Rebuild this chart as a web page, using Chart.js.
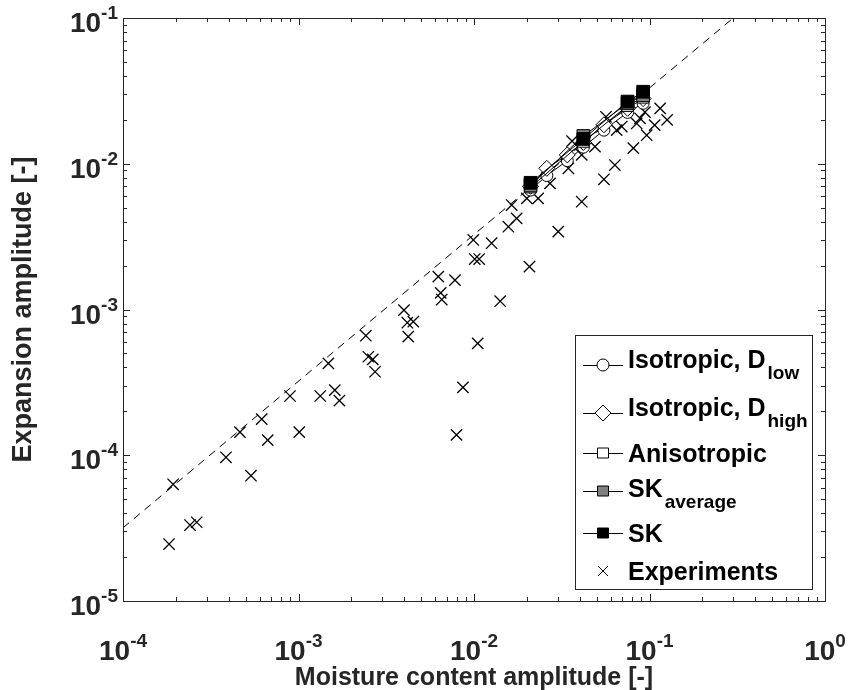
<!DOCTYPE html>
<html>
<head>
<script src="https://cdn.jsdelivr.net/npm/chart.js"></script>
<title>Expansion amplitude vs moisture content amplitude</title>
<style>
  body { margin: 0; background: #fff; }
  canvas { display: block; }
</style>
</head>
<body>
<canvas id="chart" width="850" height="690"></canvas>
<script>
// tick decades (powers of ten)
const xPowers = [-4, -3, -2, -1, 0];
const yPowers = [-5, -4, -3, -2, -1];

// experiments
const expX = [1.83e-4, 1.93e-4, 2.41e-4, 2.63e-4, 3.86e-4, 4.64e-4, 5.36e-4, 6.17e-4, 6.68e-4, 1.01e-3,
  8.95e-4, 1.33e-3, 1.61e-3, 1.71e-3, 1.48e-3, 2.42e-3, 2.50e-3, 2.65e-3, 2.73e-3, 3.99e-3,
  4.17e-3, 4.51e-3, 4.22e-3, 6.26e-3, 7.79e-3, 6.46e-3, 6.55e-3, 9.91e-3, 1.26e-2, 1.01e-2,
  1.07e-2, 1.05e-2, 8.65e-3, 7.95e-3, 1.41e-2, 2.07e-2, 1.57e-2, 1.75e-2, 1.64e-2, 3.02e-2,
  2.0e-2, 2.32e-2, 4.11e-2, 2.71e-2, 3.45e-2, 4.11e-2, 4.89e-2, 5.5e-2, 6.35e-2, 3.62e-2,
  5.65e-2, 6.5e-2, 8.09e-2, 9.64e-2, 0.107, 0.126, 0.115, 6.95e-2, 8.83e-2, 8.45e-2, 9.42e-2];
const expY = [2.46e-5, 6.32e-5, 3.32e-5, 3.47e-5, 9.68e-5, 1.44e-4, 7.24e-5, 1.77e-4, 1.27e-4, 1.44e-4,
  2.55e-4, 2.55e-4, 2.80e-4, 2.37e-4, 4.27e-4, 6.61e-4, 4.74e-4, 4.55e-4, 3.74e-4, 9.9e-4,
  8.12e-4, 8.25e-4, 6.51e-4, 1.68e-3, 1.59e-3, 1.30e-3, 1.17e-3, 3.0e-3, 2.85e-3, 2.22e-3,
  2.22e-3, 5.86e-4, 2.92e-4, 1.38e-4, 1.14e-3, 1.97e-3, 3.70e-3, 4.22e-3, 5.21e-3, 3.42e-3,
  5.79e-3, 5.79e-3, 5.49e-3, 7.34e-3, 9.31e-3, 1.15e-2, 1.31e-2, 7.82e-3, 9.8e-3, 1.43e-2,
  2.1e-2, 1.70e-2, 1.28e-2, 1.57e-2, 1.84e-2, 2.0e-2, 2.40e-2, 1.80e-2, 2.05e-2, 1.89e-2, 2.26e-2];

// dashed reference line
const fitX = [1e-4, 0.3];
const fitY = [3.18e-5, 0.1];

// model results
const isoX = [0.021, 0.026, 0.034, 0.042, 0.055, 0.075, 0.092];
const isoLowY = [6.6e-3, 8.3e-3, 1.05e-2, 1.3e-2, 1.7e-2, 2.25e-2, 2.6e-2];
const isoHighY = [7.0e-3, 9.3e-3, 1.15e-2, 1.4e-2, 1.85e-2, 2.4e-2, 2.8e-2];
const modelX = [0.021, 0.042, 0.075, 0.092];
const anisoY = [6.9e-3, 1.42e-2, 2.5e-2, 2.85e-2];
const skAvgY = [7.1e-3, 1.55e-2, 2.6e-2, 2.95e-2];
const skY = [7.4e-3, 1.48e-2, 2.67e-2, 3.12e-2];

const INK = '#262626';
const FONT = '"Liberation Sans", Arial, sans-serif';

function pts(xs, ys) {
  return xs.map((x, i) => ({ x: x, y: ys[i] }));
}

function modelSet(label, xs, ys, style, radius, fill, order) {
  return {
    label: label,
    data: pts(xs, ys),
    showLine: true,
    borderColor: '#000',
    borderWidth: 1,
    pointStyle: style,
    pointRadius: radius,
    pointBackgroundColor: fill,
    pointBorderColor: '#000',
    pointBorderWidth: 1,
    order: order
  };
}

// legend entries
const legendItems = [
  { text: 'Isotropic, D', sub: 'low', marker: 'circle', fill: '#fff', y: 365, dy: -6 },
  { text: 'Isotropic, D', sub: 'high', marker: 'diamond', fill: '#fff', y: 413, dy: -6 },
  { text: 'Anisotropic', sub: '', marker: 'square', fill: '#fff', y: 453, dy: 0 },
  { text: 'SK', sub: 'average', marker: 'square', fill: '#808080', y: 491, dy: -3 },
  { text: 'SK', sub: '', marker: 'square', fill: '#000', y: 533, dy: 0 },
  { text: 'Experiments', sub: '', marker: 'cross', fill: null, y: 571, dy: 0 }
];

function drawMarker(ctx, type, x, y, fill) {
  ctx.save();
  ctx.strokeStyle = '#000';
  ctx.lineWidth = 1;
  ctx.beginPath();
  if (type === 'circle') {
    ctx.arc(x, y, 6, 0, Math.PI * 2);
  } else if (type === 'diamond') {
    ctx.moveTo(x, y - 8); ctx.lineTo(x + 8, y); ctx.lineTo(x, y + 8); ctx.lineTo(x - 8, y); ctx.closePath();
  } else if (type === 'square') {
    ctx.rect(x - 5.5, y - 5, 11, 10);
  } else if (type === 'cross') {
    ctx.moveTo(x - 5, y - 5); ctx.lineTo(x + 5, y + 5);
    ctx.moveTo(x + 5, y - 5); ctx.lineTo(x - 5, y + 5);
  }
  if (fill) { ctx.fillStyle = fill; ctx.fill(); }
  ctx.stroke();
  ctx.restore();
}

function powLabel(ctx, p, x, y, align) {
  const baseFont = 'bold 28px ' + FONT;
  const supFont = 'bold 19px ' + FONT;
  ctx.font = baseFont;
  const wb = ctx.measureText('10').width;
  ctx.font = supFont;
  const ws = ctx.measureText(String(p)).width;
  const x0 = align === 'center' ? x - (wb + ws) / 2 : x - (wb + ws);
  ctx.textAlign = 'left';
  ctx.textBaseline = 'alphabetic';
  ctx.font = baseFont;
  ctx.fillText('10', x0, y);
  ctx.font = supFont;
  ctx.fillText(String(p), x0 + wb, y - 13);
}

const axesPlugin = {
  id: 'matlabAxes',
  afterDraw(chart) {
    const ctx = chart.ctx;
    const a = chart.chartArea;
    const xs = chart.scales.x, ys = chart.scales.y;
    ctx.save();
    ctx.strokeStyle = INK;
    ctx.fillStyle = INK;
    ctx.lineWidth = 1;

    // box
    ctx.strokeRect(Math.round(a.left) + 0.5, Math.round(a.top) + 0.5,
      Math.round(a.right - a.left), Math.round(a.bottom - a.top));

    // ticks inward on all four sides
    ctx.beginPath();
    xPowers.forEach((p, i) => {
      for (let k = 1; k <= 9; k++) {
        if (k > 1 && i === xPowers.length - 1) break;
        const px = Math.round(xs.getPixelForValue(k * Math.pow(10, p))) + 0.5;
        const len = k === 1 ? 7 : 4;
        ctx.moveTo(px, a.bottom); ctx.lineTo(px, a.bottom - len);
        ctx.moveTo(px, a.top); ctx.lineTo(px, a.top + len);
      }
    });
    yPowers.forEach((p, i) => {
      for (let k = 1; k <= 9; k++) {
        if (k > 1 && i === yPowers.length - 1) break;
        const py = Math.round(ys.getPixelForValue(k * Math.pow(10, p))) + 0.5;
        const len = k === 1 ? 7 : 4;
        ctx.moveTo(a.left, py); ctx.lineTo(a.left + len, py);
        ctx.moveTo(a.right, py); ctx.lineTo(a.right - len, py);
      }
    });
    ctx.stroke();

    // tick labels
    xPowers.forEach(p => powLabel(ctx, p, xs.getPixelForValue(Math.pow(10, p)), a.bottom + 59, 'center'));
    yPowers.forEach(p => powLabel(ctx, p, a.left - 5, ys.getPixelForValue(Math.pow(10, p)) + 14, 'right'));

    // axis titles
    ctx.font = 'bold 25px ' + FONT;
    ctx.textAlign = 'center';
    ctx.textBaseline = 'alphabetic';
    ctx.fillText('Moisture content amplitude [-]', (a.left + a.right) / 2, 685);
    ctx.save();
    ctx.font = 'bold 27px ' + FONT;
    ctx.translate(31, (a.top + a.bottom) / 2);
    ctx.rotate(-Math.PI / 2);
    ctx.fillText('Expansion amplitude [-]', 0, 0);
    ctx.restore();

    // legend
    const lx = 575, ly = 335, lw = 237, lh = 254;
    ctx.fillStyle = '#fff';
    ctx.fillRect(lx, ly, lw, lh);
    ctx.strokeStyle = INK;
    ctx.strokeRect(lx + 0.5, ly + 0.5, lw, lh);
    legendItems.forEach(it => {
      if (it.marker !== 'cross') {
        ctx.strokeStyle = '#000';
        ctx.beginPath();
        ctx.moveTo(583, it.y + 0.5); ctx.lineTo(623, it.y + 0.5);
        ctx.stroke();
      }
      drawMarker(ctx, it.marker, 603, it.y, it.fill);
      ctx.fillStyle = '#000';
      ctx.textAlign = 'left';
      ctx.font = 'bold 25px ' + FONT;
      const base = it.y + 9 + it.dy;
      ctx.fillText(it.text, 628, base);
      if (it.sub) {
        const w = ctx.measureText(it.text).width;
        ctx.font = 'bold 19px ' + FONT;
        ctx.fillText(it.sub, 628 + w + 2, base + 11);
      }
    });
    ctx.restore();
  }
};

new Chart(document.getElementById('chart'), {
  type: 'scatter',
  data: {
    datasets: [
      {
        label: 'Experiments',
        data: pts(expX, expY),
        showLine: false,
        pointStyle: 'crossRot',
        pointRadius: 8,
        pointBorderColor: '#000',
        pointBorderWidth: 1.3,
        order: 10
      },
      {
        label: 'fit',
        data: pts(fitX, fitY),
        showLine: true,
        borderColor: '#000',
        borderWidth: 1,
        borderDash: [8, 6],
        pointRadius: 0,
        order: 9
      },
      modelSet('Isotropic, D low', isoX, isoLowY, 'circle', 6, '#fff', 5),
      modelSet('Isotropic, D high', isoX, isoHighY, 'rectRot', 8, '#fff', 4),
      modelSet('Anisotropic', modelX, anisoY, 'rect', 8, '#fff', 3),
      modelSet('SK average', modelX, skAvgY, 'rect', 9, '#808080', 2),
      modelSet('SK', modelX, skY, 'rect', 9, '#000', 1)
    ]
  },
  options: {
    responsive: false,
    animation: false,
    layout: { padding: { left: 123, right: 25, top: 18, bottom: 89 } },
    scales: {
      x: { type: 'logarithmic', min: 1e-4, max: 1, display: false },
      y: { type: 'logarithmic', min: 1e-5, max: 0.1, display: false }
    },
    plugins: {
      legend: { display: false },
      tooltip: { enabled: false }
    }
  },
  plugins: [axesPlugin]
});
</script>
</body>
</html>
